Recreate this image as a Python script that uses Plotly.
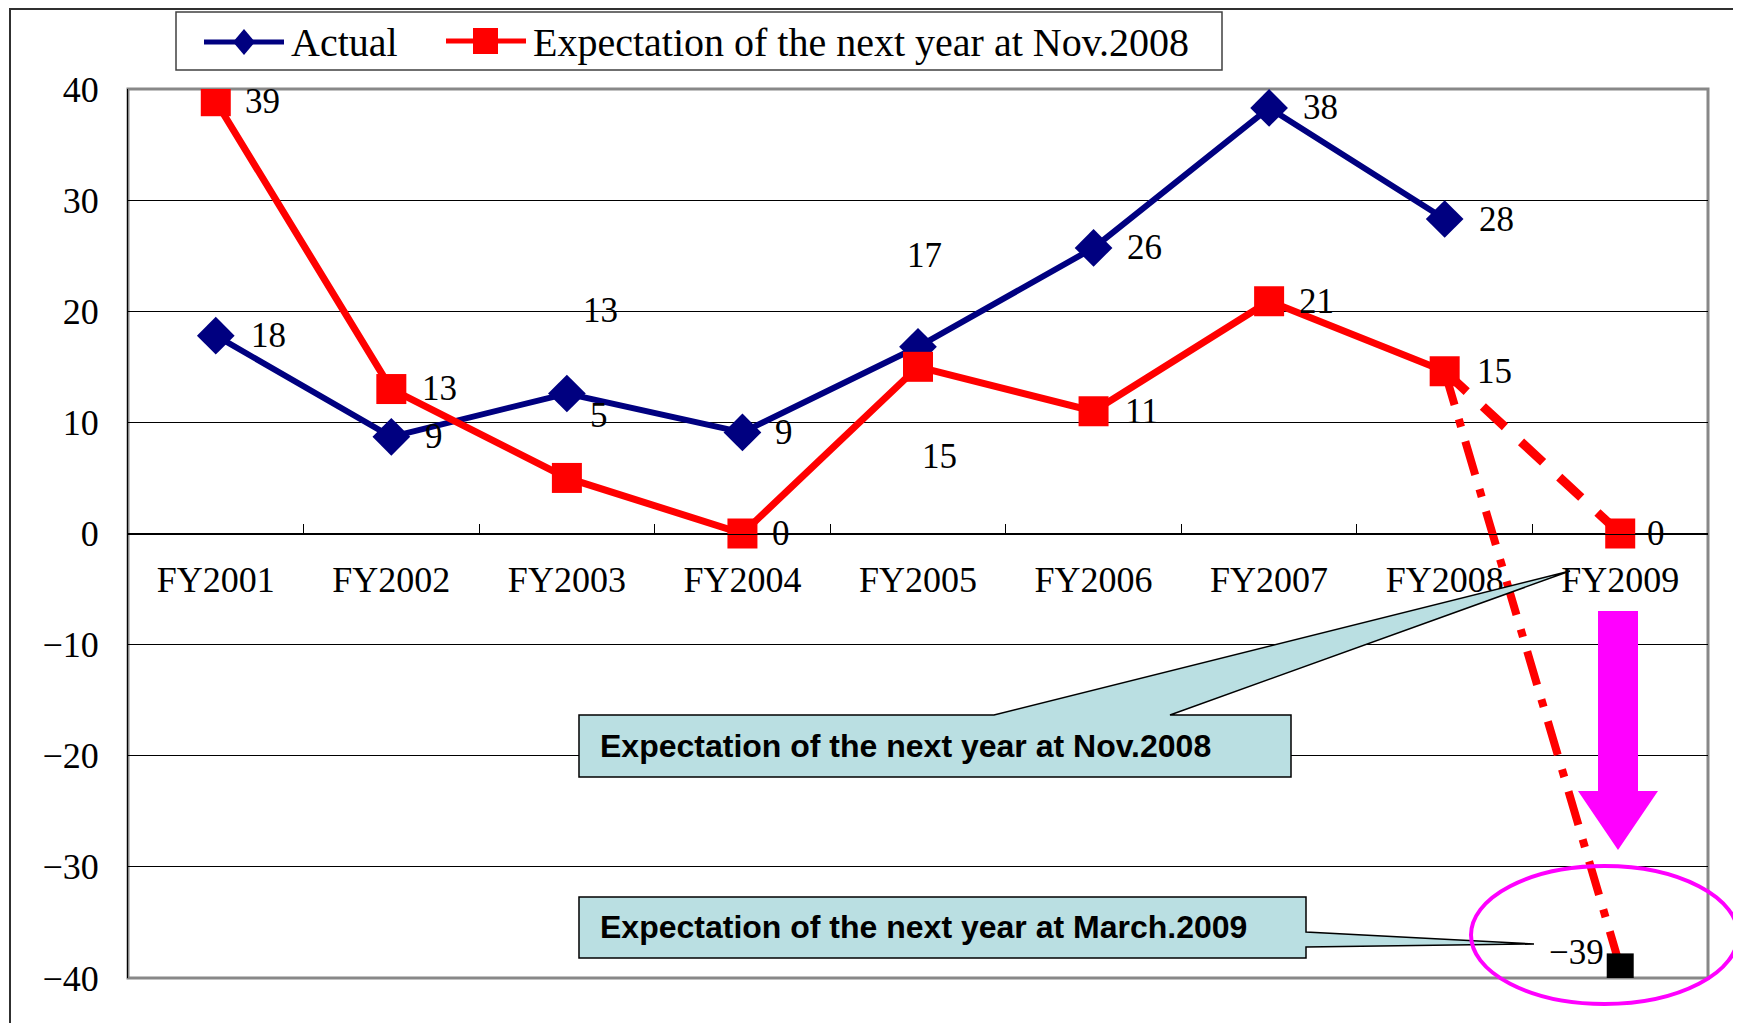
import plotly.graph_objects as go

# ---- data ----
years = ["FY2001", "FY2002", "FY2003", "FY2004", "FY2005",
         "FY2006", "FY2007", "FY2008", "FY2009"]
actual = [17.8, 8.7, 12.6, 9.1, 16.8, 25.7, 38.3, 28.3]
expect_nov2008 = [38.9, 13.0, 5.0, 0.0, 15.0, 11.0, 20.9, 14.6, 0.0]
expect_mar2009 = -39.0
series_names = ["Actual", "Expectation of the next year at Nov.2008"]
callout_texts = ["Expectation of the next year at Nov.2008",
                 "Expectation of the next year at March.2009"]

# label offsets (px) relative to markers: (dx to left edge, dy up)
actual_lbl_off = [(33, 0), (32, 0), (14, 83), (31, 0), (-13, 91), (31, 0), (32, 0), (32, 0)]
expect_lbl_off = [(27, 0), (29, 1), (21, 62), (28, 0), (2, -90), (29, 0), (28, 0), (30, 0), (25, 0)]

FONT = "Liberation Serif, Times New Roman, serif"
NAVY = "#000080"
RED = "#FF0000"
MAGENTA = "#FF00FF"
CALLOUT = "#BADFE2"

# page has an 8px body margin; figure sized so the plot area lands at
# x 128..1708, y 89..978 on the page
OFF = 8
L, R, T, B = 120, 33, 81, 45
W, H = 1733, 1015
PW, PH = W - L - R, H - T - B


def px(x):  # page pixel -> paper fraction
    return (x - OFF - L) / PW


def py(y):
    return (H - B - (y - OFF)) / PH


def path(pts):
    s = "M " + " L ".join(f"{px(x):.5f},{py(y):.5f}" for x, y in pts)
    return s + " Z"


fig = go.Figure()

fig.add_trace(go.Scatter(
    x=years[:len(actual)], y=actual, name=series_names[0],
    mode="lines+markers",
    line=dict(color=NAVY, width=6),
    marker=dict(symbol="diamond", size=29, color=NAVY),
))
fig.add_trace(go.Scatter(
    x=years[:8], y=expect_nov2008[:8], name=series_names[1],
    mode="lines+markers",
    line=dict(color=RED, width=7),
    marker=dict(symbol="square", size=30, color=RED),
))
# dashed continuation to FY2009 (Nov.2008 expectation)
fig.add_trace(go.Scatter(
    x=years[7:9], y=expect_nov2008[7:9], mode="lines",
    line=dict(color=RED, width=9, dash="30px,22px"),
))
fig.add_trace(go.Scatter(
    x=years[8:9], y=expect_nov2008[8:9], mode="markers",
    marker=dict(symbol="square", size=30, color=RED),
))
# dash-dot revision (March 2009 expectation)
fig.add_trace(go.Scatter(
    x=[years[7], years[8]], y=[expect_nov2008[7], expect_mar2009],
    mode="lines",
    line=dict(color=RED, width=8, dash="35px,15px,8px,15px"),
))
fig.add_trace(go.Scatter(
    x=[years[8]], y=[expect_mar2009], mode="markers",
    marker=dict(symbol="square", size=27, color="black"),
))

annotations = []


def add_label(x, y, dx, dy, text, anchor="left"):
    annotations.append(dict(
        x=x, y=y, xref="x", yref="y", text=text, showarrow=False,
        xanchor=anchor, yanchor="middle", xshift=dx, yshift=dy,
        font=dict(family=FONT, size=35, color="black"),
    ))


for i, v in enumerate(actual):
    dx, dy = actual_lbl_off[i]
    add_label(years[i], v, dx, dy, f"{round(v)}")
for i, v in enumerate(expect_nov2008):
    dx, dy = expect_lbl_off[i]
    add_label(years[i], v, dx, dy, f"{round(v)}")
add_label(years[8], expect_mar2009, -14, 14,
          f"{round(expect_mar2009)}".replace("-", "\u2212"), "right")

# callout texts
for txt, yc in zip(callout_texts, [746, 927]):
    annotations.append(dict(
        x=px(598), y=py(yc), xref="paper", yref="paper", text=f"<b>{txt}</b>",
        showarrow=False, xanchor="left", yanchor="middle",
        font=dict(family="Liberation Sans, Arial, sans-serif", size=32, color="black"),
    ))

# legend texts (hand-drawn legend to match the wide symbols)
for txt, xl in zip(series_names, [289, 531]):
    annotations.append(dict(
        x=px(xl), y=py(42), xref="paper", yref="paper", text=txt,
        showarrow=False, xanchor="left", yanchor="middle",
        font=dict(family=FONT, size=40, color="black"),
    ))

shapes = [
    # outer chart border
    dict(type="rect", xref="paper", yref="paper", x0=px(10), x1=px(1736), y0=py(1040), y1=py(9),
         line=dict(color="#303030", width=2), layer="below"),
    # plot area frame
    dict(type="rect", xref="paper", yref="paper", x0=0, x1=1, y0=0, y1=1,
         line=dict(color="#888888", width=3), layer="between"),
    # legend box and symbols
    dict(type="rect", xref="paper", yref="paper", x0=px(176), x1=px(1222), y0=py(70), y1=py(12),
         line=dict(color="#404040", width=1.5), fillcolor="white"),
    dict(type="line", xref="paper", yref="paper", x0=px(204), x1=px(284), y0=py(42), y1=py(42),
         line=dict(color=NAVY, width=5)),
    dict(type="path", xref="paper", yref="paper",
         path=path([(244, 29), (255, 42), (244, 55), (233, 42)]),
         fillcolor=NAVY, line=dict(color=NAVY, width=0)),
    dict(type="line", xref="paper", yref="paper", x0=px(446), x1=px(526), y0=py(41), y1=py(41),
         line=dict(color=RED, width=5)),
    dict(type="rect", xref="paper", yref="paper", x0=px(473), x1=px(498), y0=py(54), y1=py(28),
         fillcolor=RED, line=dict(color=RED, width=0)),
    # callout 1 with wedge pointing at FY2009
    dict(type="path", xref="paper", yref="paper",
         path=path([(579, 715), (994, 715), (1570, 571), (1170, 715), (1291, 715),
                    (1291, 777), (579, 777)]),
         fillcolor=CALLOUT, line=dict(color="black", width=1.5)),
    # callout 2 with wedge pointing at the -39 point
    dict(type="path", xref="paper", yref="paper",
         path=path([(579, 897), (1306, 897), (1306, 932), (1534, 944), (1306, 947),
                    (1306, 958), (579, 958)]),
         fillcolor=CALLOUT, line=dict(color="black", width=1.5)),
    # magenta block arrow
    dict(type="path", xref="paper", yref="paper",
         path=path([(1598, 611), (1638, 611), (1638, 791), (1658, 791), (1618, 850),
                    (1578, 791), (1598, 791)]),
         fillcolor=MAGENTA, line=dict(color=MAGENTA, width=0)),
    # magenta ellipse
    dict(type="circle", xref="paper", yref="paper",
         x0=px(1471), x1=px(1738), y0=py(1004), y1=py(866),
         line=dict(color=MAGENTA, width=4)),
]

fig.update_layout(
    width=W, height=H,
    margin=dict(l=L, r=R, t=T, b=B),
    paper_bgcolor="white", plot_bgcolor="white",
    font=dict(family=FONT, size=35, color="black"),
    showlegend=False,
    xaxis=dict(
        type="category", categoryorder="array", categoryarray=years,
        range=[-0.5, 8.5], anchor="free", position=0.5,
        showline=True, linecolor="black", linewidth=1,
        ticks="inside", tickson="boundaries", ticklen=10, tickcolor="black",
        showgrid=False, zeroline=False,
        tickfont=dict(family=FONT, size=36), ticklabelstandoff=14,
    ),
    yaxis=dict(
        range=[-40, 40], dtick=10, tick0=0,
        showgrid=True, gridcolor="black", gridwidth=1,
        zeroline=True, zerolinecolor="black", zerolinewidth=1,
        showline=True, linecolor="black", linewidth=1,
        ticks="", tickfont=dict(family=FONT, size=36), ticklabelstandoff=21,
    ),
    shapes=shapes,
    annotations=annotations,
)

fig.write_html("out.html")
